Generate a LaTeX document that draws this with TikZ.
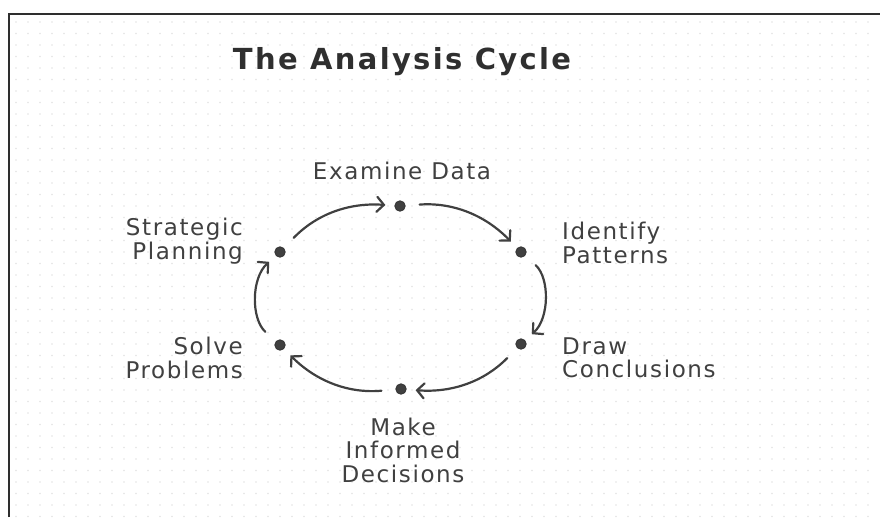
\documentclass[tikz,border=0pt]{standalone}
\usepackage{fontspec}
\setmainfont{DejaVu Sans}[LetterSpace=7]
\usetikzlibrary{arrows.meta}
\definecolor{ink}{HTML}{404040}
\definecolor{titleink}{HTML}{2F2F2F}
\definecolor{gridgray}{HTML}{E4E4E4}
\definecolor{frame}{HTML}{2E2E2E}
\begin{document}
\begin{tikzpicture}[x=1pt,y=-1pt,
  stage/.style={circle,fill=ink,draw=ink!80!black,line width=0.8pt,inner sep=0pt,minimum size=10.5pt},
  lbl/.style={text=ink,font=\fontsize{23}{23.5}\selectfont,inner sep=0pt},
  flow/.style={draw=ink,line width=2.2pt,line cap=round,
    -{Straight Barb[length=7pt,width=15pt,line cap=round]},
    shorten <=14pt,shorten >=9pt}
]
\useasboundingbox (0,0) rectangle (880,517);
\fill[white] (0,0) rectangle (880,517);
% faint dotted paper
\foreach \gx in {16,28,...,878}
  \foreach \gy in {22,33.5,...,517}
    \fill[gridgray] (\gx,\gy) circle (0.9pt);
% frame along the top and left edges
\draw[frame,line width=2pt] (8.5,517) -- (8.5,13.5) -- (880,13.5);

% title
\node[text=titleink,font=\fontsize{29}{32}\bfseries\addfontfeatures{LetterSpace=8}\selectfont,inner sep=0pt] (title) at (402,62) {The Analysis Cycle};

% stages of the cycle
\node[stage] (exam) at (400,206) {};
\node[stage] (iden) at (521,252) {};
\node[stage] (draw) at (521,344) {};
\node[stage] (make) at (401,389) {};
\node[stage] (solv) at (280,345) {};
\node[stage] (strat) at (280,252) {};

% labels
\node[lbl] (lexam) at (402,171) {Examine Data};
\node[lbl,align=left,anchor=west] (liden) at (562,243) {Identify\\Patterns};
\node[lbl,align=left,anchor=west] (ldraw) at (562,358) {Draw\\Conclusions};
\node[lbl,align=center] (lmake) at (403,450) {Make\\Informed\\Decisions};
\node[lbl,align=right,anchor=east] (lsolv) at (243,358) {Solve\\Problems};
\node[lbl,align=right,anchor=east] (lstrat) at (243,241) {Strategic\\Planning};

% connectors, clockwise
\draw[flow] (exam) to[bend left=25] (iden);
\draw[flow] (iden) to[bend left=48] (draw);
\draw[flow] (draw) to[bend left=25] (make);
\draw[flow] (make) to[bend left=25] (solv);
\draw[flow] (solv) to[bend left=48] (strat);
\draw[flow] (strat) to[bend left=25] (exam);
\end{tikzpicture}
\end{document}
